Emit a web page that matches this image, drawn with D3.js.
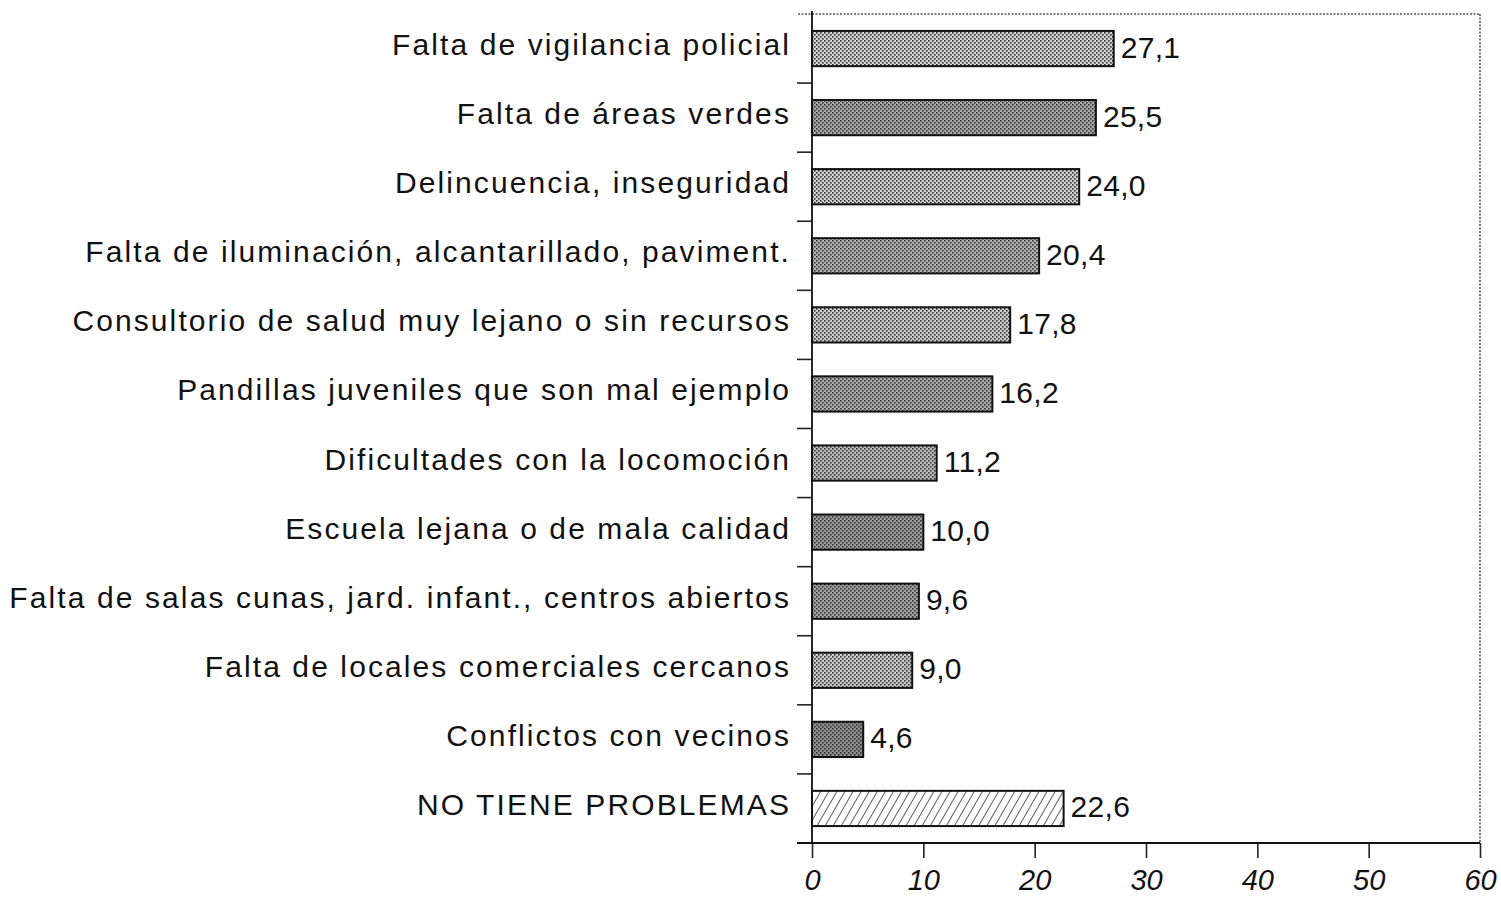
<!DOCTYPE html>
<html>
<head>
  <meta charset="utf-8">
  <title>Problemas del barrio</title>
  <script src="https://cdn.jsdelivr.net/npm/d3@7"></script>
  <style>
    body { margin: 0; background: #fff; }
    text { font-family: "Liberation Sans", Arial, sans-serif; fill: #111; }
    .cat { font-size: 30px; letter-spacing: 2.1px; }
    .val { font-size: 30px; letter-spacing: 0.3px; }
    .xaxis text { font-size: 29px; font-style: italic; }
  </style>
</head>
<body>
<svg id="chart" width="1501" height="897"></svg>
<script>
  var categories = [
    'Falta de vigilancia policial',
    'Falta de áreas verdes',
    'Delincuencia, inseguridad',
    'Falta de iluminación, alcantarillado, paviment.',
    'Consultorio de salud muy lejano o sin recursos',
    'Pandillas juveniles que son mal ejemplo',
    'Dificultades con la locomoción',
    'Escuela lejana o de mala calidad',
    'Falta de salas cunas, jard. infant., centros abiertos',
    'Falta de locales comerciales cercanos',
    'Conflictos con vecinos',
    'NO TIENE PROBLEMAS'
  ];
  var values = [27.1, 25.5, 24.0, 20.4, 17.8, 16.2, 11.2, 10.0, 9.6, 9.0, 4.6, 22.6];
  var xTicks = [0, 10, 20, 30, 40, 50, 60];

  // gray tones of the halftone fills (style only)
  var shades = ['#d2d2d2', '#a8a8a8', '#cfcfcf', '#b4b4b4', '#cdcdcd', '#acacac',
                '#bdbdbd', '#9c9c9c', '#a4a4a4', '#cacaca', '#8e8e8e', null];

  var svg = d3.select('#chart');
  var mLeft = 812, mRight = 1480, mTop = 14, mBottom = 843;

  var x = d3.scaleLinear().domain([0, 60]).range([mLeft, mRight]);
  var y = d3.scaleBand().domain(categories).range([mTop, mBottom])
    .paddingInner(0.49).paddingOuter(0.245);

  var defs = svg.append('defs');
  shades.forEach(function (c, i) {
    if (c === null) {
      var h = defs.append('pattern').attr('id', 'pat' + i)
        .attr('patternUnits', 'userSpaceOnUse').attr('width', 7).attr('height', 7)
        .attr('patternTransform', 'rotate(30)');
      h.append('rect').attr('width', 7).attr('height', 7).attr('fill', '#fff');
      h.append('line').attr('x1', 0).attr('y1', 0).attr('x2', 0).attr('y2', 7)
        .attr('stroke', '#333').attr('stroke-width', 1.6);
      return;
    }
    var p = defs.append('pattern').attr('id', 'pat' + i)
      .attr('patternUnits', 'userSpaceOnUse').attr('width', 4).attr('height', 4);
    p.append('rect').attr('width', 4).attr('height', 4).attr('fill', c);
    p.append('rect').attr('width', 1.6).attr('height', 1.6).attr('fill', '#333');
    p.append('rect').attr('x', 2).attr('y', 2).attr('width', 1.6).attr('height', 1.6).attr('fill', '#333');
  });

  // dotted frame top and right
  svg.append('line').attr('x1', mLeft - 14).attr('x2', mRight).attr('y1', mTop).attr('y2', mTop)
    .attr('stroke', '#555').attr('stroke-width', 1.6).attr('stroke-dasharray', '2,1.5');
  svg.append('line').attr('x1', mRight).attr('x2', mRight).attr('y1', mTop).attr('y2', mBottom)
    .attr('stroke', '#555').attr('stroke-width', 1.6).attr('stroke-dasharray', '2,1.5');

  // category separator ticks on the left
  var step = y.step();
  var sep = d3.range(1, categories.length).map(function (k) { return mTop + k * step; });
  svg.selectAll('.sep').data(sep).enter().append('line')
    .attr('class', 'sep')
    .attr('x1', mLeft - 15).attr('x2', mLeft)
    .attr('y1', function (d) { return d; }).attr('y2', function (d) { return d; })
    .attr('stroke', '#222').attr('stroke-width', 1.6);

  // left axis line
  svg.append('line').attr('x1', mLeft).attr('x2', mLeft).attr('y1', mTop - 3).attr('y2', mBottom)
    .attr('stroke', '#111').attr('stroke-width', 1.8);

  // bars
  svg.selectAll('.bar').data(values).enter().append('rect')
    .attr('class', 'bar')
    .attr('x', x(0))
    .attr('y', function (d, i) { return y(categories[i]); })
    .attr('width', function (d) { return x(d) - x(0); })
    .attr('height', y.bandwidth())
    .attr('fill', function (d, i) { return 'url(#pat' + i + ')'; })
    .attr('stroke', '#111').attr('stroke-width', 2);

  // value labels
  svg.selectAll('.val').data(values).enter().append('text')
    .attr('class', 'val')
    .attr('x', function (d) { return x(d) + 7; })
    .attr('y', function (d, i) { return y(categories[i]) + y.bandwidth() / 2 + 9; })
    .text(function (d) { return d.toFixed(1).replace('.', ','); });

  // category labels
  svg.selectAll('.cat').data(categories).enter().append('text')
    .attr('class', 'cat')
    .attr('x', 791)
    .attr('y', function (d) { return y(d) + y.bandwidth() / 2 + 6.5; })
    .attr('text-anchor', 'end')
    .text(function (d) { return d; });

  // bottom axis
  var xAxis = d3.axisBottom(x).tickValues(xTicks).tickSize(15).tickPadding(11)
    .tickFormat(d3.format('d'));
  var gx = svg.append('g').attr('class', 'xaxis')
    .attr('transform', 'translate(0,' + mBottom + ')')
    .call(xAxis);
  gx.select('.domain').remove();
  gx.selectAll('.tick line').attr('stroke', '#222').attr('stroke-width', 1.6);
  gx.selectAll('.tick text').attr('fill', '#111');
  gx.append('line').attr('x1', mLeft - 15).attr('x2', mRight).attr('y1', 0).attr('y2', 0)
    .attr('stroke', '#111').attr('stroke-width', 2);
</script>
</body>
</html>
